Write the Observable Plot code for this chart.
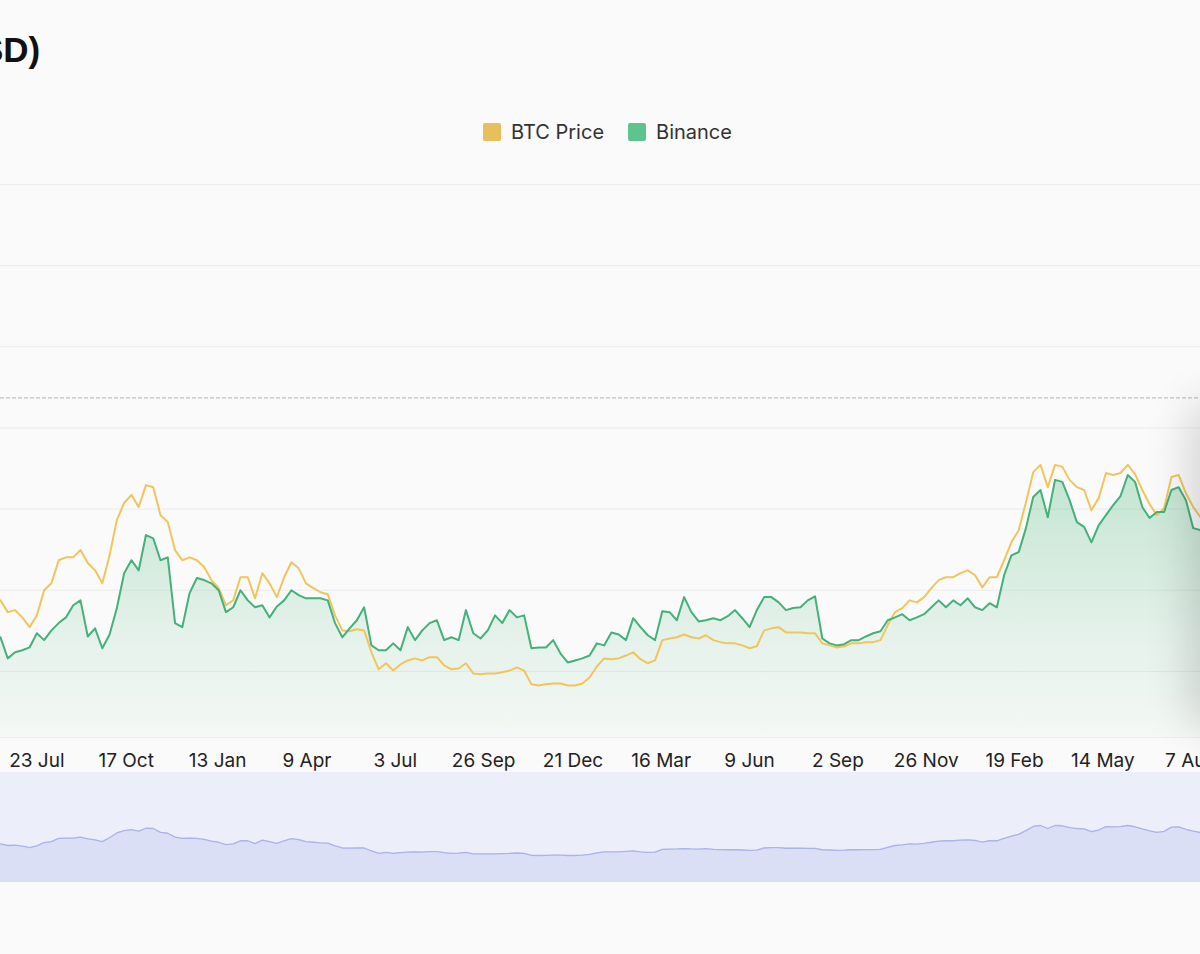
<!DOCTYPE html>
<html>
<head>
<meta charset="utf-8">
<script src="https://cdn.jsdelivr.net/npm/d3@7"></script>
<script src="https://cdn.jsdelivr.net/npm/@observablehq/plot@0.6"></script>
<style>
  html, body { margin: 0; padding: 0; background: #fafafa; overflow: hidden; }
  #wrap { position: relative; width: 1200px; height: 954px; overflow: hidden; background: #fafafa; }
  #title { position: absolute; left: -20px; top: 32px; font-family: "Liberation Sans", Arial, sans-serif; font-weight: 700; font-size: 35px; line-height: 35px; color: #111; white-space: nowrap; }
  #legend { position: absolute; top: 120px; left: 483px; display: flex; align-items: center; font-family: Inter, "Noto Sans", sans-serif; font-size: 20px; color: #333; }
  #legend .sw { width: 18px; height: 18px; border-radius: 2px; margin-right: 10px; }
  #legend .item { display: flex; align-items: center; margin-right: 24px; }
  #main { position: absolute; left: 0; top: 160px; }
  #nav { position: absolute; left: 0; top: 772px; }
  #shadow { position: absolute; left: 1203px; top: 415px; width: 260px; height: 300px; background: #fff; border-radius: 6px; box-shadow: 0 0 45px 12px rgba(0,0,0,0.16); }
</style>
</head>
<body>
<div id="wrap">
  <div id="title">SD)</div>
  <div id="legend"></div>
  <div id="main"></div>
  <div id="nav"></div>
  <div id="shadow"></div>
</div>
<script>
// ---- Data (values in thousands of USD, weekly from 18 Jun 2021) ----
const startDate = "2021-06-18";
const stepDays = 7;
const seriesNames = ["BTC Price", "Binance"];
const seriesColors = ["#f2c55c", "#44b07a"];
const legendColors = ["#e8bf5c", "#5cc48c"];

const btcPrice = [
  37.5, 34.6, 35.1, 33.3, 30.9, 33.8, 40.0, 41.7, 47.4, 48.1,
  48.1, 49.9, 46.7, 44.9, 41.7, 48.6, 57.3, 61.5, 63.5, 60.5,
  65.9, 65.4, 58.5, 56.8, 49.9, 47.4, 48.1, 47.4, 45.7, 42.5,
  40.5, 36.3, 37.5, 43.2, 43.2, 38.0, 44.2, 41.7, 38.3, 43.2,
  46.9, 45.4, 41.7, 40.5, 39.5, 39.0, 33.8, 30.1, 29.9, 30.4,
  30.1, 24.7, 20.5, 22.0, 20.2, 21.7, 22.7, 23.2, 22.7, 23.5,
  23.5, 21.5, 20.5, 20.7, 22.0, 19.5, 19.3, 19.5, 19.5, 19.8,
  20.2, 21.0, 20.2, 16.8, 16.5, 16.8, 17.0, 17.0, 16.5, 16.5,
  17.0, 18.5, 21.2, 23.2, 23.0, 23.2, 23.9, 24.7, 23.0, 22.0,
  22.7, 27.7, 28.1, 28.4, 29.1, 28.4, 28.1, 28.9, 27.7, 27.2,
  26.9, 26.9, 26.4, 25.7, 26.2, 30.1, 30.6, 30.9, 29.6, 29.6,
  29.6, 29.4, 29.4, 26.9, 26.4, 25.9, 26.2, 26.9, 26.9, 27.2,
  27.2, 27.7, 31.4, 34.6, 35.6, 37.5, 37.0, 38.3, 40.5, 42.5,
  43.2, 43.2, 44.2, 44.9, 43.7, 40.7, 43.2, 43.2, 47.4, 51.8,
  54.8, 61.7, 69.1, 70.9, 65.4, 70.9, 70.4, 67.2, 65.4, 64.7,
  59.7, 62.7, 68.9, 68.4, 68.9, 70.9, 68.6, 64.7, 61.2, 58.5,
  60.2, 67.9, 68.4, 63.9, 60.5, 58.0
];

const binance = [
  28.4, 23.2, 24.7, 25.2, 25.9, 29.4, 27.7, 30.1, 31.9, 33.3,
  36.3, 37.5, 28.6, 30.6, 25.7, 29.1, 35.6, 44.2, 47.4, 44.9,
  53.6, 52.8, 47.4, 48.1, 31.9, 30.9, 39.3, 43.0, 42.5, 41.7,
  40.0, 34.6, 35.8, 40.0, 37.5, 35.8, 36.3, 33.3, 36.0, 37.5,
  40.0, 38.8, 38.0, 38.0, 38.0, 37.5, 31.9, 28.4, 30.6, 32.6,
  35.8, 26.4, 25.2, 25.2, 26.9, 25.2, 30.9, 27.7, 30.1, 31.9,
  32.6, 27.7, 28.4, 27.7, 35.1, 29.4, 28.1, 30.1, 33.8, 31.9,
  35.1, 33.3, 33.8, 25.7, 25.9, 25.9, 27.7, 24.4, 22.2, 22.7,
  23.2, 23.9, 26.9, 26.4, 29.6, 29.1, 27.7, 33.1, 30.9, 28.9,
  27.7, 34.8, 34.6, 32.6, 38.3, 34.6, 32.3, 32.6, 33.1, 32.6,
  33.6, 35.1, 33.1, 30.9, 35.1, 38.3, 38.3, 37.0, 35.1, 35.6,
  35.8, 37.5, 38.5, 28.1, 26.9, 26.4, 26.7, 27.7, 27.7, 28.6,
  29.4, 29.9, 32.6, 33.3, 34.1, 32.6, 33.3, 34.1, 35.8, 37.5,
  35.8, 37.5, 36.3, 38.0, 35.8, 35.1, 36.8, 35.8, 43.7, 48.6,
  49.4, 55.3, 63.0, 64.7, 58.0, 67.2, 66.7, 62.2, 56.8, 55.6,
  51.8, 56.0, 58.5, 61.0, 63.2, 68.4, 66.7, 60.5, 57.8, 59.3,
  59.3, 64.7, 65.4, 62.2, 55.3, 54.8
];

const tickDates = ["2021-07-23","2021-10-17","2022-01-13","2022-04-09","2022-07-03","2022-09-26",
  "2022-12-21","2023-03-16","2023-06-09","2023-09-02","2023-11-26","2024-02-19","2024-05-14","2024-08-07"];
const tickLabels = ["23 Jul","17 Oct","13 Jan","9 Apr","3 Jul","26 Sep","21 Dec","16 Mar","9 Jun",
  "2 Sep","26 Nov","19 Feb","14 May","7 Aug"];
const gridValues = [20, 40, 60, 80, 100, 120, 140];
const crosshairValue = [87.4];
const xDomain = ["2021-06-18", "2024-08-16"];
const yDomain = [3.7, 140];
const navDomain = [-32.5, 167];

// ---- Build table ----
const start = new Date(startDate + "T00:00:00Z");
const rows = btcPrice.map((v, i) => ({
  date: d3.utcDay.offset(start, i * stepDays),
  btc: v,
  binance: binance[i]
}));
const ticks = tickDates.map((d, i) => ({date: new Date(d + "T00:00:00Z"), label: tickLabels[i]}));
const xd = xDomain.map(d => new Date(d + "T00:00:00Z"));

// ---- Legend ----
const legend = document.getElementById("legend");
seriesNames.forEach((name, i) => {
  const item = document.createElement("div");
  item.className = "item";
  const sw = document.createElement("div");
  sw.className = "sw";
  sw.style.background = legendColors[i];
  const t = document.createElement("span");
  t.textContent = name;
  item.appendChild(sw); item.appendChild(t);
  legend.appendChild(item);
});

// ---- Main chart ----
const main = Plot.plot({
  width: 1200,
  height: 612,
  marginTop: 24,
  marginBottom: 35,
  marginLeft: 0,
  marginRight: 0,
  style: {fontFamily: "Inter, 'Noto Sans', sans-serif", background: "transparent", overflow: "visible"},
  x: {type: "utc", domain: xd, axis: null},
  y: {domain: yDomain, axis: null},
  marks: [
    Plot.ruleY(gridValues, {stroke: "#ebebeb", strokeWidth: 1}),
    Plot.ruleY([yDomain[0]], {stroke: "#eeeeee", strokeWidth: 1}),
    Plot.ruleY(crosshairValue, {stroke: "#c2c2c2", strokeWidth: 1.2, strokeDasharray: "4,2"}),
    Plot.areaY(rows, {x: "date", y1: yDomain[0], y2: "binance", fill: "url(#greenFade)", clip: true}),
    Plot.lineY(rows, {x: "date", y: "btc", stroke: seriesColors[0], strokeWidth: 2, clip: true}),
    Plot.lineY(rows, {x: "date", y: "binance", stroke: seriesColors[1], strokeWidth: 2, clip: true}),
    Plot.text(ticks, {x: "date", text: "label", frameAnchor: "bottom", dy: 23, lineAnchor: "middle",
      fontSize: 19, fill: "#222", clip: false})
  ]
});
const ns = "http://www.w3.org/2000/svg";
const defs = document.createElementNS(ns, "defs");
const grad = document.createElementNS(ns, "linearGradient");
grad.setAttribute("id", "greenFade");
grad.setAttribute("x1", "0"); grad.setAttribute("y1", "0");
grad.setAttribute("x2", "0"); grad.setAttribute("y2", "1");
[["0", "rgba(70,180,115,0.30)"], ["0.6", "rgba(70,180,115,0.12)"], ["1", "rgba(70,180,115,0.03)"]].forEach(([o, c]) => {
  const s = document.createElementNS(ns, "stop");
  s.setAttribute("offset", o);
  s.setAttribute("stop-color", c);
  grad.appendChild(s);
});
defs.appendChild(grad);
main.insertBefore(defs, main.firstChild);
document.getElementById("main").appendChild(main);

// ---- Navigator ----
const nav = Plot.plot({
  width: 1200,
  height: 110,
  margin: 0,
  style: {background: "#eceef9"},
  x: {type: "utc", domain: xd, axis: null},
  y: {domain: navDomain, axis: null},
  marks: [
    Plot.areaY(rows, {x: "date", y1: navDomain[0], y2: "btc", fill: "#dadff5", clip: true}),
    Plot.lineY(rows, {x: "date", y: "btc", stroke: "#aab4e6", strokeWidth: 1.3, clip: true})
  ]
});
document.getElementById("nav").appendChild(nav);
</script>
</body>
</html>
